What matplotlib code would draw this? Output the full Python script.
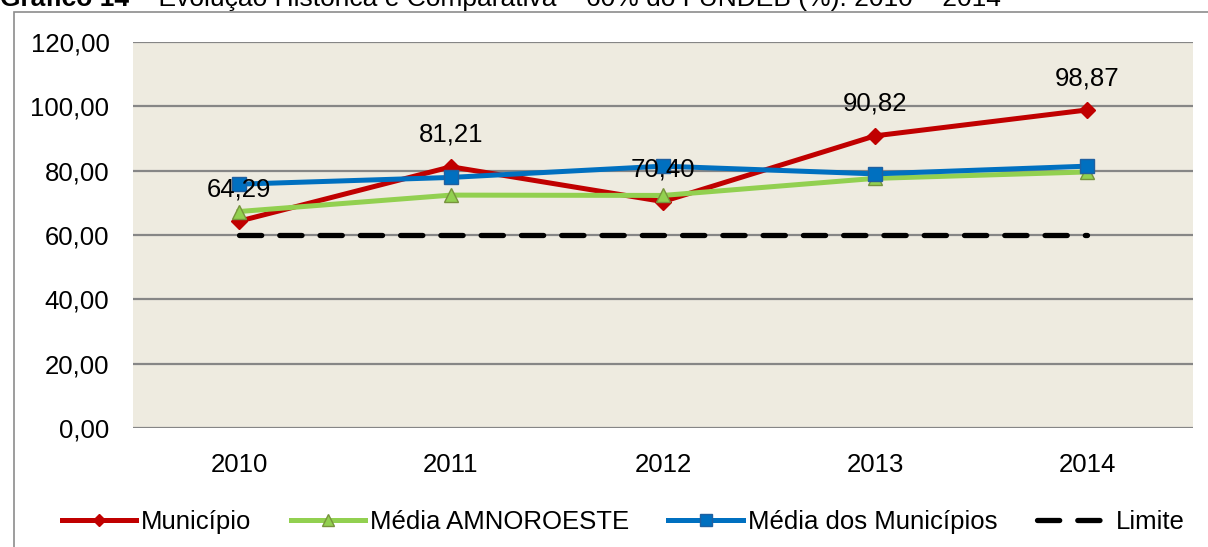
import matplotlib
matplotlib.use('Agg')
from matplotlib import pyplot as plt
from matplotlib.patches import Rectangle

plt.rcParams['font.family'] = ['Liberation Sans', 'DejaVu Sans']
plt.rcParams['lines.scale_dashes'] = False

anos = ['2010', '2011', '2012', '2013', '2014']
municipio = [64.29, 81.21, 70.40, 90.82, 98.87]
media_amnoroeste = [67.3, 72.4, 72.3, 77.6, 79.6]
media_municipios = [75.8, 77.9, 81.4, 79.0, 81.4]
limite = [60, 60, 60, 60, 60]
rotulos = ['64,29', '81,21', '70,40', '90,82', '98,87']

FS = 18.5
fig = plt.figure(figsize=(12.08, 5.47), dpi=100)
# moldura externa do grafico
fig.patches.append(Rectangle((14/1208, -0.05), 1.2, 1 - 12/547 + 0.05,
                             transform=fig.transFigure, fill=False,
                             edgecolor='#8c8c8c', linewidth=1.2))
# titulo cortado no topo, como na imagem original
t1 = fig.text(0, 1 - 6/547, 'Gráfico 14', fontsize=19, fontweight='bold',
              va='baseline', ha='left')
fig.canvas.draw()
bb = t1.get_window_extent()
fig.text(bb.x1 / 1208, 1 - 6/547,
         ' – Evolução Histórica e Comparativa – 60% do FUNDEB (%): 2010 – 2014',
         fontsize=19, va='baseline', ha='left')

ax = fig.add_axes([133/1208, 1 - 428/547, 1060/1208, 386/547])
ax.set_facecolor('#EEEBE0')
x = list(range(len(anos)))

ax.plot(x, limite, color='black', linewidth=3.8, dashes=(16, 13),
        dash_capstyle='round', label='Limite', zorder=2)
ax.plot(x, municipio, color='#C00000', linewidth=3.6, marker='D',
        markersize=8, markeredgecolor='#C00000', label='Município', zorder=3)
ax.plot(x, media_amnoroeste, color='#92D050', linewidth=3.6, marker='^',
        markersize=10, markerfacecolor='#92D050', markeredgecolor='#77933C',
        label='Média AMNOROESTE', zorder=3)
ax.plot(x, media_municipios, color='#0070C0', linewidth=3.6, marker='s',
        markersize=10, markeredgecolor='#2060A0', label='Média dos Municípios',
        zorder=4)

for xi, v, r in zip(x, municipio, rotulos):
    ax.annotate(r, (xi, v), xytext=(0, 23), textcoords='offset points',
                ha='center', va='center', fontsize=FS, zorder=5)

ax.set_xlim(-0.5, len(anos) - 0.5)
ax.set_ylim(0, 120)
ax.set_yticks(range(0, 121, 20))
ax.set_yticklabels(['%d,00' % v for v in range(0, 121, 20)], fontsize=FS)
ax.set_xticks(x)
ax.set_xticklabels(anos, fontsize=FS)
ax.tick_params(axis='y', length=0, pad=17)
ax.tick_params(axis='x', length=0, pad=18)
ax.grid(axis='y', color='#868686', linewidth=1.6)
ax.set_axisbelow(True)
for s in ax.spines.values():
    s.set_visible(False)

h, l = ax.get_legend_handles_labels()
ordem = [1, 2, 3, 0]
fig.legend([h[i] for i in ordem], [l[i] for i in ordem], loc='center',
           bbox_to_anchor=(0.516, 1 - 522/547), ncol=4, frameon=False,
           fontsize=FS, handlelength=2.9, handletextpad=0.2, columnspacing=1.52,
           markerscale=0.8)

fig.savefig('out.png', dpi=100)
